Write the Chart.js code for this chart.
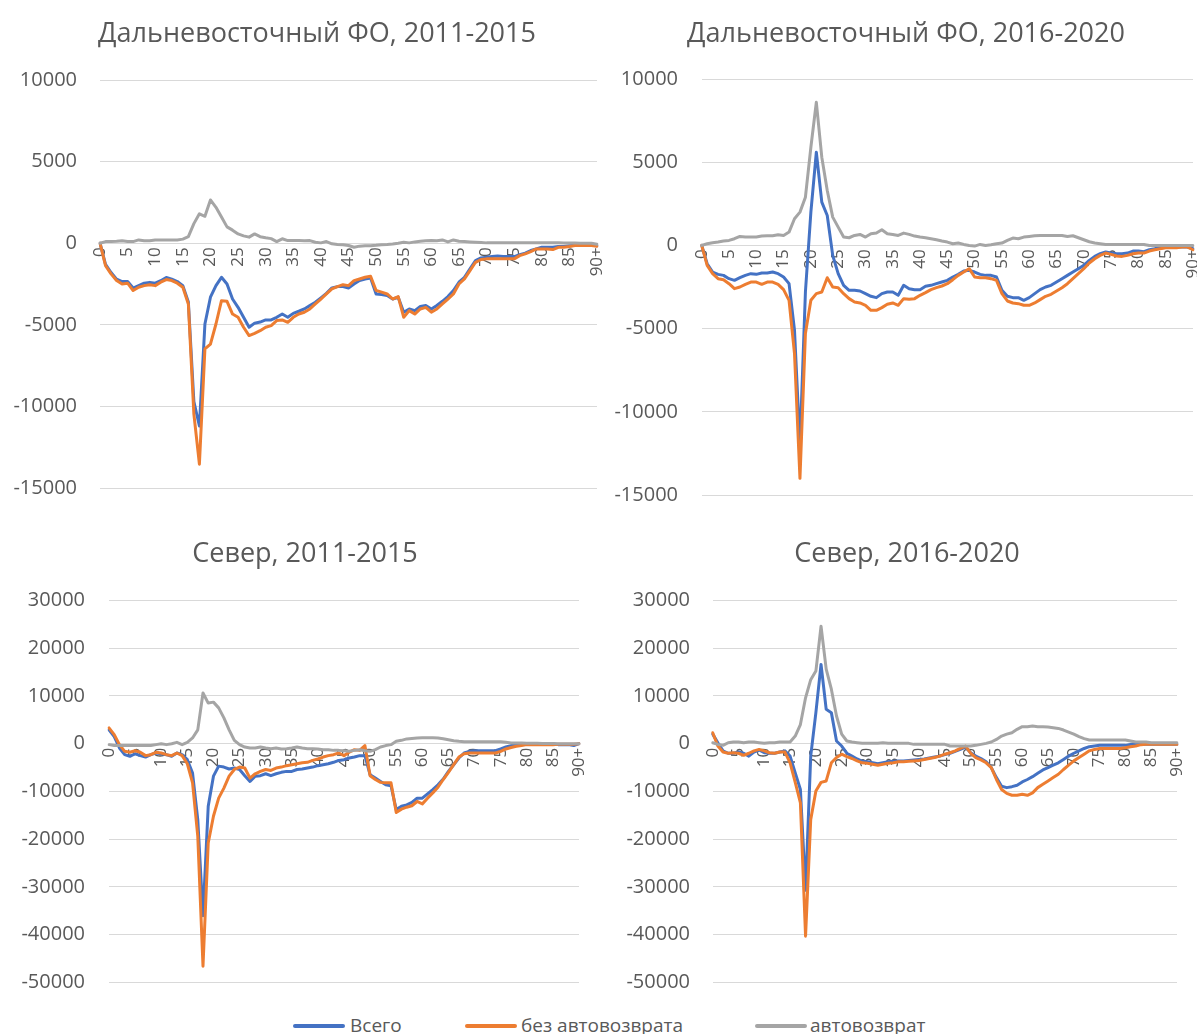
<!DOCTYPE html>
<html lang="ru">
<head>
<meta charset="utf-8">
<script src="https://cdn.jsdelivr.net/npm/chart.js@4.4.1/dist/chart.umd.min.js"></script>
<style>
  html, body { margin: 0; padding: 0; background: #ffffff; overflow: hidden; }
  #wrap { position: relative; width: 1197px; height: 1034px; overflow: hidden; background: #fff; }
  canvas { position: absolute; }
  .lg-line { position: absolute; height: 4px; border-radius: 2px; }
  .lg-text { position: absolute; font-family: "Open Sans", sans-serif; font-size: 19px; color: #595959; line-height: 20px; white-space: nowrap; }
</style>
</head>
<body>
<div id="wrap">
  <canvas id="c1"></canvas>
  <canvas id="c2"></canvas>
  <canvas id="c3"></canvas>
  <canvas id="c4"></canvas>
  <div class="lg-line" style="left:293px; top:1024px; width:52px; background:#4472C4;"></div>
  <div class="lg-text" style="left:350px; top:1015px;">Всего</div>
  <div class="lg-line" style="left:465px; top:1024px; width:52px; background:#ED7D31;"></div>
  <div class="lg-text" style="left:521px; top:1015px;">без автовозврата</div>
  <div class="lg-line" style="left:755px; top:1024px; width:52px; background:#A5A5A5;"></div>
  <div class="lg-text" style="left:810px; top:1015px;">автовозврат</div>
</div>
<script>
// ---------- categories (age) ----------
const ages = ['0','1','2','3','4','5','6','7','8','9','10','11','12','13','14','15','16','17','18','19',
  '20','21','22','23','24','25','26','27','28','29','30','31','32','33','34','35','36','37','38','39',
  '40','41','42','43','44','45','46','47','48','49','50','51','52','53','54','55','56','57','58','59',
  '60','61','62','63','64','65','66','67','68','69','70','71','72','73','74','75','76','77','78','79',
  '80','81','82','83','84','85','86','87','88','89','90+'];

const seriesNames = ['Всего', 'без автовозврата', 'автовозврат'];
const titles = ['Дальневосточный ФО, 2011-2015', 'Дальневосточный ФО, 2016-2020', 'Север, 2011-2015', 'Север, 2016-2020'];

// ---------- Дальневосточный ФО, 2011-2015 ----------
const dfo1_total = [0,-1300,-1800,-2200,-2350,-2350,-2750,-2600,-2450,-2400,
  -2450,-2300,-2100,-2200,-2350,-2600,-3600,-9700,-11200,-4950,
  -3310,-2600,-2090,-2500,-3420,-3930,-4540,-5150,-4900,-4830,
  -4700,-4700,-4540,-4340,-4540,-4300,-4170,-4030,-3820,-3620,
  -3350,-3070,-2740,-2660,-2660,-2740,-2500,-2290,-2190,-2130,
  -3110,-3150,-3210,-3420,-3310,-4230,-4030,-4130,-3880,-3820,
  -4030,-3820,-3560,-3270,-2900,-2390,-2090,-1570,-1060,-900,
  -860,-820,-780,-820,-820,-820,-700,-610,-450,-350,
  -250,-250,-250,-200,-200,-150,-120,-100,-100,-100,-150];
const dfo1_noauto = [0,-1370,-1880,-2290,-2500,-2450,-2900,-2700,-2600,-2540,
  -2600,-2390,-2230,-2290,-2450,-2700,-3720,-10470,-13540,-6480,
  -6180,-4950,-3520,-3560,-4340,-4540,-5150,-5660,-5520,-5360,
  -5150,-5050,-4740,-4700,-4850,-4540,-4340,-4230,-4030,-3720,
  -3420,-3110,-2800,-2660,-2540,-2600,-2290,-2190,-2090,-2020,
  -2900,-3000,-3110,-3420,-3270,-4540,-4130,-4340,-4030,-3930,
  -4230,-4030,-3720,-3420,-3110,-2500,-2190,-1680,-1170,-1000,
  -960,-960,-960,-960,-960,-960,-760,-650,-510,-350,
  -350,-350,-390,-250,-250,-200,-140,-140,-140,-140,-180];
const dfo1_auto = [0,100,100,120,150,100,100,200,150,150,
  200,200,200,200,200,250,400,1200,1800,1650,
  2650,2200,1600,1000,800,570,450,370,570,400,
  330,280,100,270,160,160,160,150,160,60,
  20,100,-40,-80,-100,-140,-250,-180,-150,-150,
  -130,-100,-80,-50,0,60,20,80,120,150,
  160,150,200,80,200,120,100,80,60,40,
  20,20,20,20,20,20,20,20,20,20,
  20,20,20,20,10,10,10,0,0,0,-60];

// ---------- Дальневосточный ФО, 2016-2020 ----------
const dfo2_total = [0,-1100,-1600,-1740,-1800,-2000,-2100,-1940,-1800,-1700,
  -1740,-1660,-1660,-1600,-1700,-1900,-2300,-5100,-12000,-2800,
  2000,5600,2600,1800,-600,-1700,-2400,-2700,-2700,-2740,
  -2900,-3060,-3140,-2900,-2800,-2800,-3000,-2400,-2600,-2660,
  -2660,-2460,-2400,-2300,-2200,-2100,-1900,-1740,-1540,-1500,
  -1600,-1740,-1800,-1800,-1900,-2700,-3060,-3140,-3140,-3300,
  -3140,-2900,-2660,-2500,-2400,-2200,-2000,-1800,-1600,-1400,
  -1200,-900,-660,-500,-400,-460,-500,-500,-460,-340,
  -340,-380,-260,-200,-100,-100,-100,-100,-100,-100,-200];
const dfo2_noauto = [0,-1200,-1700,-2000,-2060,-2300,-2600,-2500,-2340,-2200,
  -2200,-2340,-2200,-2200,-2340,-2660,-3300,-6500,-14000,-5300,
  -3300,-2900,-2800,-1940,-2500,-2540,-2900,-3200,-3400,-3460,
  -3600,-3900,-3900,-3740,-3540,-3460,-3600,-3200,-3240,-3200,
  -3000,-2840,-2660,-2540,-2440,-2300,-2060,-1800,-1600,-1400,
  -1900,-1940,-1940,-2000,-2100,-2900,-3340,-3460,-3500,-3600,
  -3600,-3460,-3260,-3060,-2940,-2740,-2540,-2300,-2000,-1700,
  -1400,-1060,-800,-600,-460,-540,-640,-660,-600,-500,
  -460,-460,-340,-260,-200,-140,-140,-140,-100,-100,-260];
const dfo2_auto = [0,100,160,200,260,300,400,540,500,500,
  500,560,580,580,640,600,800,1600,2000,2900,
  5900,8600,5300,3300,1700,1100,500,460,600,660,
  500,700,740,940,700,660,600,740,660,560,
  500,460,400,340,260,200,100,140,60,0,
  -40,60,0,40,100,140,300,440,400,500,
  540,580,600,600,600,600,600,540,580,460,
  340,220,140,100,60,60,60,60,60,60,
  60,60,0,0,0,0,0,0,0,0,0];

// ---------- Север, 2011-2015 ----------
const sev1_total = [2900,1500,-900,-2300,-2650,-2100,-2500,-2800,-2300,-1950,
  -2100,-2300,-2650,-1950,-2300,-3350,-6150,-15900,-36000,-13100,
  -6800,-4700,-4900,-5300,-5100,-5400,-6700,-7900,-6800,-6700,
  -6300,-6700,-6300,-6000,-5800,-5800,-5400,-5300,-5100,-4900,
  -4600,-4400,-4200,-3900,-3500,-3350,-3000,-2800,-2500,-2500,
  -6500,-7200,-7900,-8600,-8800,-13800,-13100,-12800,-12300,-11400,
  -11400,-10500,-9600,-8600,-7400,-5800,-4400,-3000,-1950,-1600,
  -1470,-1470,-1470,-1470,-1470,-1100,-700,-400,-200,-200,
  0,0,0,0,0,0,-200,-200,-200,-400,0];
const sev1_noauto = [3300,1900,-200,-1600,-1800,-1470,-1800,-2500,-2300,-1800,
  -1950,-2300,-2500,-1950,-2500,-4200,-8200,-19400,-46600,-20800,
  -15200,-11400,-9300,-6800,-5400,-4900,-5100,-7200,-6300,-5800,
  -5400,-5600,-5100,-4900,-4600,-4400,-4200,-4000,-3900,-3500,
  -3200,-2800,-2500,-2300,-1950,-2500,-1800,-1250,-1400,-400,
  -6700,-7500,-8100,-8200,-8200,-14400,-13700,-13300,-13000,-12100,
  -12600,-11400,-10300,-9100,-7500,-6000,-4400,-2800,-2100,-1950,
  -1950,-1950,-1950,-1950,-1950,-1600,-1100,-800,-550,-400,
  -200,-200,-200,-200,-200,-200,-100,-100,-100,-100,0];
const sev1_auto = [-200,-400,-400,-400,-400,-400,-400,-400,-400,-200,
  0,-200,0,280,-200,280,1200,2900,10600,8500,
  8700,7500,5400,2900,700,-200,-700,-900,-900,-700,
  -900,-1050,-900,-1100,-1050,-900,-700,-900,-1050,-1050,
  -1100,-1250,-1250,-1400,-1400,-1470,-1600,-1400,-1250,-1470,
  -1600,-1250,-700,-400,-200,500,700,1000,1100,1200,
  1250,1250,1250,1200,1050,840,630,500,400,400,
  400,400,400,400,400,400,280,140,140,140,
  100,100,100,50,50,50,0,0,0,0,0];

// ---------- Север, 2016-2020 ----------
const sev2_total = [2000,200,-1500,-2000,-2000,-1750,-2000,-2600,-1750,-1330,
  -1900,-2000,-2000,-1750,-1500,-2600,-6100,-9600,-30700,-2600,
  6500,16600,7200,6500,560,-490,-2000,-2600,-3200,-3700,
  -3800,-4000,-4200,-4000,-3800,-3700,-3600,-3600,-3500,-3400,
  -3300,-3200,-3000,-2800,-2600,-2300,-2000,-1600,-1200,-700,
  -1900,-2600,-3100,-3800,-5000,-7100,-8900,-9200,-9000,-8700,
  -8000,-7500,-6900,-6200,-5500,-5000,-4500,-4000,-3300,-2600,
  -2000,-1500,-1000,-630,-490,-350,-350,-350,-350,-350,
  -350,-140,-140,-140,-140,-140,-140,-140,-140,-140,-140];
const sev2_noauto = [2300,-490,-1750,-2000,-1900,-2000,-2440,-2000,-1500,-1200,
  -1500,-1900,-2000,-1750,-1750,-4000,-8100,-12400,-40300,-15900,
  -9900,-8100,-7800,-4000,-2900,-2200,-2700,-3100,-3600,-4000,
  -4100,-4300,-4500,-4300,-4100,-4000,-3800,-3800,-3700,-3600,
  -3500,-3300,-3100,-2900,-2600,-2200,-1900,-1500,-1000,-490,
  -2000,-2900,-3400,-4000,-5000,-7500,-9600,-10400,-10800,-10800,
  -10600,-10800,-10300,-9200,-8500,-7800,-7100,-6400,-5400,-4500,
  -3600,-2900,-2200,-1500,-1200,-1000,-1000,-1000,-1000,-1000,
  -840,-630,-490,-200,-140,-140,-140,-140,-140,-140,-140];
const sev2_auto = [200,-140,-350,200,350,350,200,350,350,200,
  70,200,200,350,350,350,1600,4000,9600,13400,
  15200,24600,15600,11400,5800,2000,560,350,200,70,
  70,70,70,200,70,70,70,70,70,-140,
  -140,-140,-140,-140,-140,-140,-490,-490,-490,-490,
  -490,-350,-140,70,350,900,1600,2000,2300,3000,
  3560,3560,3700,3560,3560,3490,3350,3200,2860,2440,
  2000,1470,1050,770,770,770,770,770,770,770,
  770,560,350,350,350,200,200,200,200,200,200];

// ---------- y-axis ranges ----------
const yMin = [-15000, -15000, -50000, -50000];
const yMax = [10000, 10000, 30000, 30000];
const yStep = [5000, 5000, 10000, 10000];

const COLORS = ['#4472C4', '#ED7D31', '#A5A5A5'];
const TEXT = '#595959';
Chart.defaults.font.family = '"Open Sans", sans-serif';

// layout per panel: canvas placement, paddings, left axis width, right spacer width
const panels = [
  { id: 'c1', left: 0,   top: 0,   w: 634, h: 500, pad: {left: 0, right: 0, top: 18, bottom: 12},   yW: 100,  rW: 37, yPad: 23,   tB: 29.6,
    data: [dfo1_total, dfo1_noauto, dfo1_auto] },
  { id: 'c2', left: 610, top: 0,   w: 592, h: 507, pad: {left: 0, right: 0, top: 18, bottom: 12},   yW: 91.7, rW: 9,  yPad: 23.7, tB: 28.6,
    data: [dfo2_total, dfo2_noauto, dfo2_auto] },
  { id: 'c3', left: 0,   top: 520, w: 610, h: 475, pad: {left: 0, right: 0, top: 18, bottom: 12.5}, yW: 109,  rW: 31, yPad: 24,   tB: 30,
    data: [sev1_total, sev1_noauto, sev1_auto] },
  { id: 'c4', left: 615, top: 520, w: 584, h: 475, pad: {left: 0, right: 0, top: 18, bottom: 12.5}, yW: 97.7, rW: 22, yPad: 22.7, tB: 30,
    data: [sev2_total, sev2_noauto, sev2_auto] }
];

panels.forEach((p, k) => {
  const cv = document.getElementById(p.id);
  cv.width = p.w; cv.height = p.h;
  cv.style.left = p.left + 'px'; cv.style.top = p.top + 'px';
  cv.style.width = p.w + 'px'; cv.style.height = p.h + 'px';
  new Chart(cv.getContext('2d'), {
    type: 'line',
    data: {
      labels: ages,
      datasets: seriesNames.map((name, j) => ({
        label: name,
        data: p.data[j],
        borderColor: COLORS[j],
        backgroundColor: COLORS[j],
        borderWidth: 3,
        pointRadius: 0,
        tension: 0,
        borderJoinStyle: 'round',
        borderCapStyle: 'round',
        fill: false,
        order: 3 - j
      }))
    },
    options: {
      responsive: false,
      animation: false,
      devicePixelRatio: 1,
      layout: { padding: p.pad },
      plugins: {
        legend: { display: false },
        tooltip: { enabled: false },
        title: {
          display: true,
          text: titles[k],
          color: TEXT,
          font: { size: 27, weight: 'normal' },
          padding: { top: 0, bottom: p.tB }
        }
      },
      scales: {
        x: {
          type: 'category',
          position: { y: 0 },
          offset: false,
          grid: { display: false, drawTicks: false },
          border: { display: false },
          ticks: {
            autoSkip: false,
            minRotation: 90,
            maxRotation: 90,
            padding: 4,
            color: TEXT,
            font: { size: 17 },
            callback: function(v, i) { return i % 5 === 0 ? ages[i] : ''; }
          },
          afterFit: function(s) { s.paddingLeft = 0; s.paddingRight = 0; }
        },
        y: {
          position: 'left',
          min: yMin[k],
          max: yMax[k],
          grid: { color: '#D9D9D9', lineWidth: 1, drawTicks: false },
          border: { display: false },
          ticks: {
            stepSize: yStep[k],
            padding: p.yPad,
            color: TEXT,
            font: { size: 20 },
            callback: function(v) { return String(v); }
          },
          afterFit: function(s) { s.width = p.yW; s.paddingTop = 0; s.paddingBottom = 0; }
        },
        ySpacer: {
          type: 'linear',
          position: 'right',
          min: yMin[k],
          max: yMax[k],
          grid: { display: false, drawTicks: false },
          border: { display: false },
          ticks: { display: false },
          afterFit: function(s) { s.width = p.rW; s.paddingTop = 0; s.paddingBottom = 0; }
        }
      }
    }
  });
});
</script>
</body>
</html>
